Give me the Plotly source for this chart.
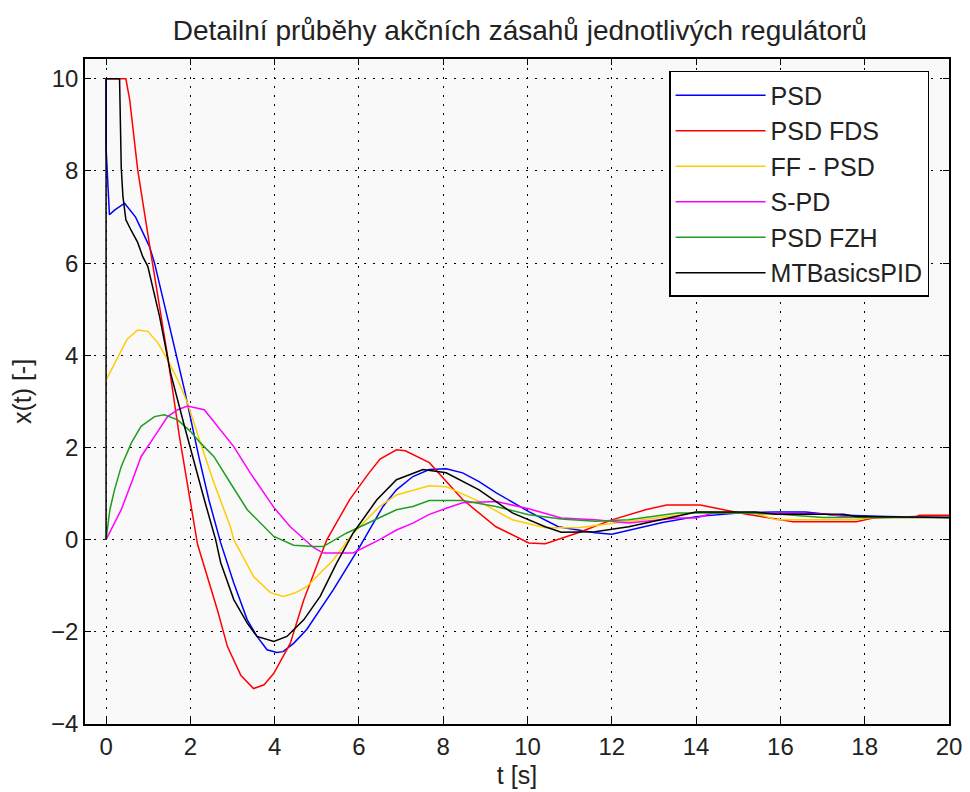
import plotly.graph_objects as go

# action signals of the individual controllers
psd_t = [0, 0, 0.08, 0.2, 0.44, 0.7, 1.03, 1.15, 1.5, 1.86, 2.2, 2.44, 2.72, 3.03, 3.35, 3.58, 3.82,
         4.05, 4.2, 4.45, 4.76, 5.39, 6.02, 6.57, 6.89, 7.28, 7.67, 8.07, 8.46, 8.85, 9.25, 10.03,
         10.73, 11.6, 12.0, 12.8, 13.2, 14.0, 15.0, 15.9, 16.6, 17.2, 17.7, 18.5, 20]
psd_y = [10, 8.5, 7.05, 7.15, 7.3, 7.0, 6.36, 6.0, 4.65, 3.25, 1.8, 0.86, -0.07, -0.94, -1.74, -2.1, -2.39,
         -2.45, -2.43, -2.25, -1.95, -1.09, -0.15, 0.72, 1.08, 1.37, 1.52, 1.54, 1.45, 1.26, 1.02, 0.61,
         0.28, 0.15, 0.12, 0.28, 0.37, 0.5, 0.58, 0.6, 0.6, 0.54, 0.52, 0.5, 0.48]

fds_t = [0, 0.47, 0.56, 0.75, 1.03, 1.46, 1.74, 2.0, 2.17, 2.64, 2.88, 3.2, 3.5, 3.75, 3.98, 4.37,
         4.69, 5.08, 5.24, 5.78, 6.2, 6.5, 6.89, 7.1, 7.67, 8.46, 9.25, 10.03, 10.42, 11.2, 12.0, 12.8,
         13.3, 14.1, 14.6, 15.2, 15.9, 16.3, 17.8, 18.2, 19.2, 19.3, 20]
fds_y = [10, 10, 9.55, 8.03, 6.4, 3.98, 2.24, 0.86, -0.1, -1.52, -2.32, -2.95, -3.23, -3.15, -2.9, -2.25,
         -1.31, -0.37, 0.0, 0.87, 1.4, 1.75, 1.95, 1.93, 1.67, 0.87, 0.28, -0.07, -0.09, 0.15, 0.43, 0.65,
         0.75, 0.75, 0.66, 0.55, 0.45, 0.39, 0.39, 0.47, 0.5, 0.53, 0.53]

ff_t = [0.02, 0.28, 0.5, 0.75, 0.99, 1.23, 1.46, 1.7, 1.93, 2.24, 2.56, 2.95, 3.03, 3.5, 3.9, 4.21,
        4.5, 4.76, 5.39, 5.86, 6.49, 6.89, 7.67, 8.07, 8.85, 9.64, 10.42, 11.2, 12.4, 13.56, 14.0,
        15.4, 15.9, 17.8, 18.2, 20]
ff_y = [3.5, 3.98, 4.35, 4.55, 4.52, 4.27, 3.9, 3.47, 2.97, 2.1, 1.23, 0.28, 0.0, -0.8, -1.15, -1.23,
        -1.15, -1.02, -0.44, 0.14, 0.72, 0.97, 1.17, 1.15, 0.83, 0.43, 0.26, 0.26, 0.39, 0.53, 0.6,
        0.58, 0.43, 0.43, 0.48, 0.48]

spd_t = [0, 0.36, 0.6, 0.83, 1.15, 1.46, 1.7, 1.93, 2.33, 2.72, 3.03, 3.42, 3.98, 4.37, 4.92, 5.15,
         5.86, 6.49, 6.89, 7.28, 7.67, 8.07, 8.46, 9.25, 10.03, 10.8, 11.6, 12.4, 13.56, 14.0, 14.4,
         15.4, 17.0, 17.5, 20]
spd_y = [0, 0.65, 1.23, 1.8, 2.24, 2.67, 2.82, 2.9, 2.82, 2.38, 2.02, 1.45, 0.7, 0.28, -0.17, -0.29,
         -0.29, 0.0, 0.21, 0.36, 0.55, 0.68, 0.8, 0.83, 0.67, 0.47, 0.43, 0.36, 0.47, 0.47, 0.58,
         0.58, 0.56, 0.5, 0.48]

fzh_t = [0, 0.09, 0.2, 0.36, 0.6, 0.83, 1.15, 1.38, 1.7, 2.0, 2.24, 2.56, 2.95, 3.35, 3.98, 4.45,
         4.92, 5.15, 5.7, 6.49, 6.89, 7.28, 7.67, 8.46, 9.25, 10.03, 10.8, 11.6, 12.4, 13.56, 15.0,
         16.0, 17.0, 20]
fzh_y = [0, 0.65, 1.08, 1.59, 2.1, 2.46, 2.67, 2.71, 2.6, 2.35, 2.1, 1.8, 1.23, 0.65, 0.07, -0.12,
         -0.15, -0.15, 0.14, 0.47, 0.65, 0.72, 0.85, 0.85, 0.72, 0.54, 0.45, 0.4, 0.43, 0.58, 0.58,
         0.55, 0.48, 0.48]

mtb_t = [0, 0, 0.32, 0.33, 0.36, 0.4, 0.47, 0.59, 0.75, 0.87, 0.99, 1.27, 1.53, 1.86, 2.17, 2.33,
         2.6, 2.72, 3.03, 3.35, 3.58, 3.98, 4.29, 4.69, 5.08, 5.47, 5.86, 6.42, 6.89, 7.52, 8.07, 8.85,
         9.64, 10.42, 10.8, 11.6, 12.4, 13.56, 14.0, 15.4, 15.9, 17.5, 17.8, 20]
mtb_y = [0, 10, 10, 9.27, 8.07, 7.45, 6.94, 6.72, 6.45, 6.14, 5.93, 4.84, 3.62, 2.46, 1.37, 0.87,
         0.0, -0.5, -1.3, -1.81, -2.1, -2.21, -2.1, -1.74, -1.23, -0.51, 0.14, 0.86, 1.3, 1.52, 1.45, 1.08,
         0.58, 0.28, 0.16, 0.17, 0.28, 0.5, 0.6, 0.6, 0.55, 0.55, 0.5, 0.48]

series = [
    ("PSD", psd_t, psd_y, "#0000ff"),
    ("PSD FDS", fds_t, fds_y, "#ff0000"),
    ("FF - PSD", ff_t, ff_y, "#ffcc00"),
    ("S-PD", spd_t, spd_y, "#ff00ff"),
    ("PSD FZH", fzh_t, fzh_y, "#1f9e1f"),
    ("MTBasicsPID", mtb_t, mtb_y, "#000000"),
]

font = "Liberation Sans, Arial, sans-serif"
txt = "#222222"

fig = go.Figure()
for name, t, y, color in series:
    fig.add_trace(go.Scatter(x=t, y=y, name=name, mode="lines", legendgroup=name,
                             line=dict(color=color, width=1.5)))

axis_style = dict(showline=True, linecolor="black", linewidth=1.5, mirror="ticks",
                  ticks="inside", ticklen=6, tickcolor="black", showgrid=True,
                  gridcolor="black", griddash="2px,7px", gridwidth=1.3, zeroline=False,
                  automargin=False, ticklabeloverflow="allow",
                  tickfont=dict(size=24, color=txt))

fig.update_xaxes(range=[-0.5, 20], dtick=2, tick0=0,
                 title=dict(text="t [s]", font=dict(size=25, color=txt), standoff=8),
                 **axis_style)
fig.update_yaxes(range=[-4, 10.43], dtick=2, tick0=0,
                 title=dict(text="x(t) [-]", font=dict(size=25, color=txt), standoff=14),
                 **axis_style)

# page body has an 8px margin; right edge pulled in a little so the "20" label fits
fig.update_layout(
    width=962, height=784,
    margin=dict(l=77, r=21, t=51, b=68),
    paper_bgcolor="white", plot_bgcolor="#f9f9f9",
    font=dict(family=font, color=txt),
    title=dict(text="Detailní průběhy akčních zásahů jednotlivých regulátorů",
               x=0.532, xanchor="center", y=0.972, yanchor="middle",
               font=dict(size=28, color=txt)),
    legend=dict(x=0.676, xanchor="left", y=0.982, yanchor="top",
                bgcolor="white", bordercolor="black", borderwidth=1.5,
                font=dict(size=25, color=txt), itemwidth=90, tracegroupgap=0),
    showlegend=True,
)

fig.write_html("out.html")
